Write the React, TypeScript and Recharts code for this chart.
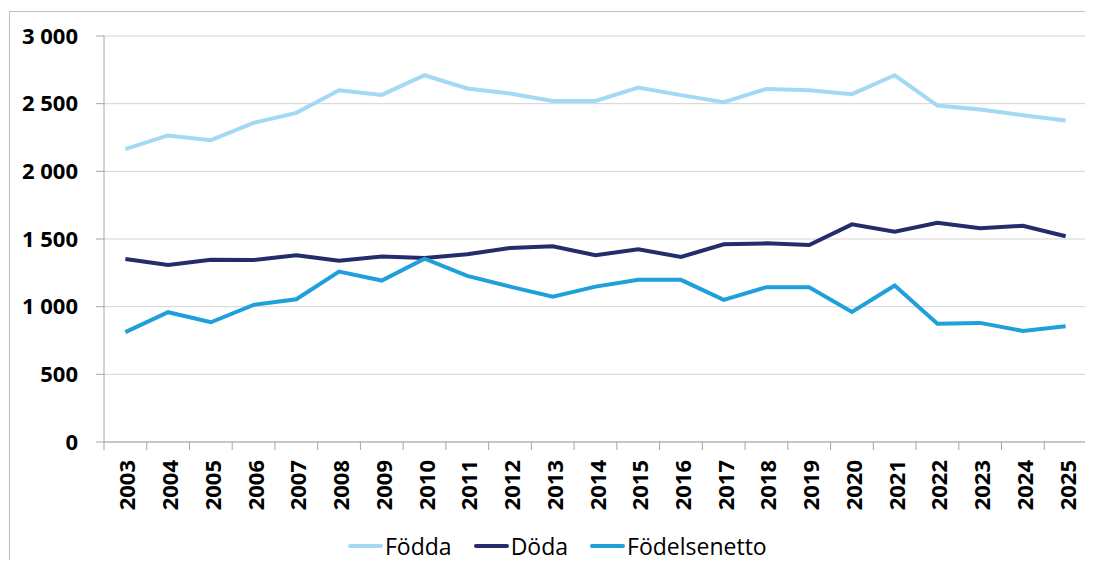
import { LineChart, Line, XAxis, YAxis, CartesianGrid, Legend } from 'recharts';

const years = [
  '2003', '2004', '2005', '2006', '2007', '2008', '2009', '2010', '2011', '2012', '2013', '2014',
  '2015', '2016', '2017', '2018', '2019', '2020', '2021', '2022', '2023', '2024', '2025',
];

const fodda = [
  2164, 2265, 2230, 2358, 2432, 2599, 2565, 2710, 2612, 2575, 2520, 2520,
  2619, 2563, 2511, 2609, 2599, 2570, 2710, 2486, 2457, 2415, 2376,
];

const doda = [
  1352, 1308, 1347, 1345, 1380, 1340, 1370, 1360, 1387, 1434, 1446, 1380,
  1424, 1367, 1461, 1468, 1456, 1608, 1554, 1620, 1579, 1598, 1520,
];

const netto = [
  812, 959, 885, 1013, 1055, 1259, 1193, 1355, 1227, 1148, 1074, 1148,
  1198, 1198, 1050, 1144, 1144, 961, 1156, 873, 880, 821, 856,
];

const yTicks = [0, 500, 1000, 1500, 2000, 2500, 3000];

const series = [
  { key: 'fodda', name: 'Födda', color: '#a3d9f3' },
  { key: 'doda', name: 'Döda', color: '#252c6c' },
  { key: 'netto', name: 'Födelsenetto', color: '#1fa0db' },
];

const data = years.map((year, i) => ({
  year,
  fodda: fodda[i],
  doda: doda[i],
  netto: netto[i],
}));

const W = 1093;
const H = 568;
const PLOT_LEFT = 104;
const PLOT_RIGHT = 6;
const BAND = (W - PLOT_LEFT - PLOT_RIGHT) / years.length;
const AXIS = '#a6a6a6';
const FONT = '"Open Sans", sans-serif';

const fmt = (v: number) => (v >= 1000 ? `${Math.floor(v / 1000)}\u00a0${String(v % 1000).padStart(3, '0')}` : String(v));

function YearTick(props: any) {
  const { x, y, payload, index } = props;
  const left = x - BAND / 2;
  return (
    <g>
      <line x1={left} y1={y - 8} x2={left} y2={y} stroke={AXIS} strokeWidth={1} />
      {index === years.length - 1 && (
        <line x1={x + BAND / 2} y1={y - 8} x2={x + BAND / 2} y2={y} stroke={AXIS} strokeWidth={1} />
      )}
      <text
        transform={`translate(${x + 1},${y + 10}) rotate(-90)`}
        textAnchor="end"
        dominantBaseline="central"
        fontFamily={FONT}
        fontWeight={700}
        fontSize={22}
        fill="#000"
      >
        {payload.value}
      </text>
    </g>
  );
}

function LegendBox() {
  return (
    <div style={{ display: 'flex', alignItems: 'center', paddingLeft: 348, paddingTop: 8, fontFamily: FONT, fontSize: 23 }}>
      {series.map((s) => (
        <div key={s.key} style={{ display: 'flex', alignItems: 'center', marginRight: 22 }}>
          <span style={{ display: 'inline-block', width: 35, height: 4, borderRadius: 2, background: s.color, marginRight: 2 }} />
          <span style={{ color: '#000' }}>{s.name}</span>
        </div>
      ))}
    </div>
  );
}

export default function App() {
  return (
    <div style={{ position: 'relative', width: W, height: H, margin: -8, overflow: 'hidden', background: '#fff' }}>
      <div
        style={{
          position: 'absolute',
          left: 9,
          top: 11,
          width: W + 20,
          height: H + 20,
          borderLeft: '1px solid #bfbfbf',
          borderTop: '1px solid #bfbfbf',
        }}
      />
      <div style={{ position: 'absolute', left: 0, top: 0 }}>
        <LineChart width={W} height={H} data={data} margin={{ top: 36, right: PLOT_RIGHT, bottom: 0, left: 0 }}>
          <CartesianGrid vertical={false} stroke="#d4d4d4" strokeWidth={1} />
          <XAxis
            dataKey="year"
            interval={0}
            height={80}
            padding={{ left: BAND / 2, right: BAND / 2 }}
            axisLine={{ stroke: AXIS }}
            tickLine={false}
            tick={<YearTick />}
          />
          <YAxis
            width={PLOT_LEFT}
            domain={[0, 3000]}
            ticks={yTicks}
            interval={0}
            axisLine={{ stroke: AXIS }}
            tickLine={{ stroke: AXIS }}
            tickSize={8}
            tickMargin={18}
            tickFormatter={fmt}
            tick={{ fontFamily: FONT, fontWeight: 700, fontSize: 22, fill: '#000' }}
          />
          <Legend verticalAlign="bottom" height={46} content={<LegendBox />} wrapperStyle={{ left: 0, width: W }} />
          {series.map((s) => (
            <Line
              key={s.key}
              type="linear"
              dataKey={s.key}
              name={s.name}
              stroke={s.color}
              strokeWidth={4}
              dot={false}
              isAnimationActive={false}
            />
          ))}
        </LineChart>
      </div>
    </div>
  );
}
